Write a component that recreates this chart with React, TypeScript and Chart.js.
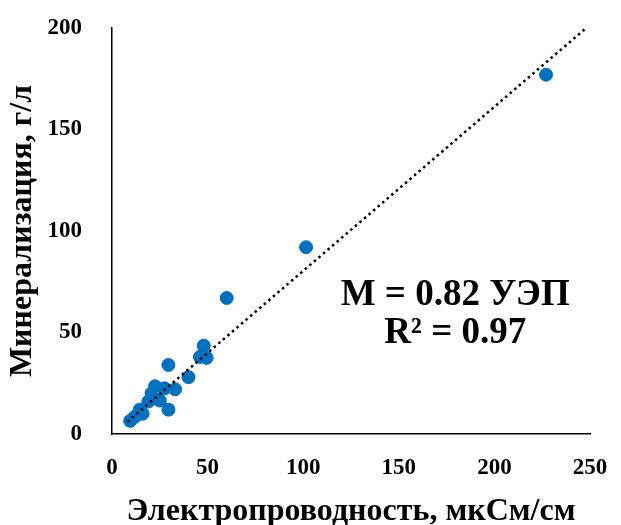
import React, { useEffect, useRef } from "react";
import { Chart, registerables } from "chart.js";

Chart.register(...registerables);

const conductivity = [9.5, 12, 14.5, 16, 19, 20.7, 22.5, 25, 27.5, 29.5, 33, 29.5, 40, 46, 49.5, 48, 60, 101.5, 227];
const mineralization = [6.5, 8.5, 12, 10, 16, 20, 23.5, 16.5, 22.5, 12, 22, 34, 28, 38, 37.5, 43.5, 67, 92, 177];
const trendX = [8, 248];
const trendY = [6, 200];
const xTicks = [0, 50, 100, 150, 200, 250];
const yTicks = [0, 50, 100, 150, 200];
const xTitle = "Электропроводность, мкСм/см";
const yTitle = "Минерализация, г/л";
const equationLines = ["M = 0.82 УЭП", "R² = 0.97"];
const equationAnchor = { x: 179.5, y: [68.5, 49.7] };

const FONT = "'Liberation Serif', 'Times New Roman', serif";

const zeroPad = (s: any) => {
  s.paddingTop = 0;
  s.paddingBottom = 0;
  s.paddingLeft = 0;
  s.paddingRight = 0;
};

export default function App() {
  const ref = useRef<HTMLCanvasElement | null>(null);
  useEffect(() => {
    if (!ref.current) return;
    const labelPlugin = {
      id: "eqLabel",
      afterDatasetsDraw(chart: any) {
        const { ctx, scales } = chart;
        ctx.save();
        ctx.font = `bold 37px ${FONT}`;
        ctx.fillStyle = "#000";
        ctx.textAlign = "center";
        ctx.textBaseline = "middle";
        equationLines.forEach((t, i) => {
          ctx.fillText(t, scales.x.getPixelForValue(equationAnchor.x), scales.y.getPixelForValue(equationAnchor.y[i]));
        });
        ctx.restore();
      },
    };
    const chart = new Chart(ref.current, {
      type: "scatter",
      data: {
        datasets: [
          {
            label: "data",
            data: conductivity.map((x, i) => ({ x, y: mineralization[i] })),
            backgroundColor: "#0070C0",
            borderColor: "#0070C0",
            pointRadius: 6.5,
            pointHoverRadius: 6.5,
            order: 2,
          },
          {
            label: "trend",
            type: "line",
            data: trendX.map((x, i) => ({ x, y: trendY[i] })),
            showLine: true,
            borderColor: "#000",
            borderWidth: 2.5,
            borderDash: [2.5, 3.5],
            pointRadius: 0,
            fill: false,
            order: 1,
          } as any,
        ],
      },
      options: {
        responsive: false,
        animation: false,
        layout: { padding: { left: 0, top: 28, right: 31, bottom: 0 } },
        plugins: { legend: { display: false }, tooltip: { enabled: false } },
        scales: {
          x: {
            type: "linear",
            min: 0,
            max: 250,
            afterBuildTicks: (s: any) => { s.ticks = xTicks.map((v) => ({ value: v })); },
            afterFit: (s: any) => { s.height = 91; zeroPad(s); },
            grid: { display: false, drawTicks: false },
            border: { display: true, color: "#000", width: 1.5 },
            ticks: { color: "#000", font: { family: FONT, size: 23, weight: "bold" }, padding: 20, maxRotation: 0 },
            title: { display: true, text: xTitle, color: "#000", font: { family: FONT, size: 32, weight: "bold", lineHeight: 0.85 }, padding: { top: 0, bottom: 0 } },
          },
          y: {
            type: "linear",
            min: 0,
            max: 200,
            afterBuildTicks: (s: any) => { s.ticks = yTicks.map((v) => ({ value: v })); },
            afterFit: (s: any) => { s.width = 112; zeroPad(s); },
            grid: { display: false, drawTicks: false },
            border: { display: true, color: "#000", width: 1.5 },
            ticks: { color: "#000", font: { family: FONT, size: 23, weight: "bold" }, padding: 30 },
            title: { display: true, text: yTitle, color: "#000", font: { family: FONT, size: 32, weight: "bold" }, padding: { top: 4, bottom: 0 } },
          },
        },
      },
      plugins: [labelPlugin],
    });
    return () => chart.destroy();
  }, []);
  return (
    <canvas
      ref={ref}
      width={621}
      height={525}
      style={{ position: "absolute", left: 0, top: 0, display: "block", width: 621, height: 525 }}
    />
  );
}
